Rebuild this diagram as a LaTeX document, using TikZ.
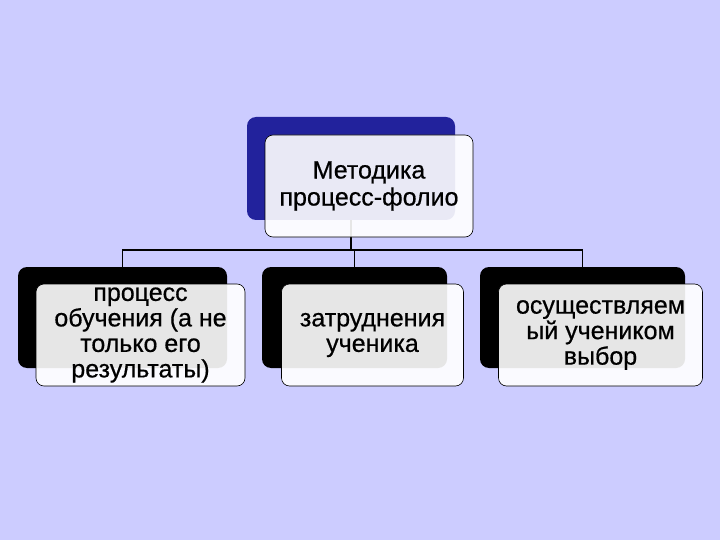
\documentclass[tikz,border=0pt]{standalone}
\usepackage{fontspec}
\setmainfont{Liberation Sans}
\newfontfamily\boxfont{Liberation Sans}[FakeBold=0.6]
\usetikzlibrary{positioning,calc}
\definecolor{lavender}{HTML}{CCCCFF}
\definecolor{navyback}{HTML}{22229C}
\tikzset{
    backbox/.style={rectangle, rounded corners=9pt, fill=black,
                    minimum height=101pt, inner sep=0pt},
    frontbox/.style={rectangle, rounded corners=8pt, draw=black, line width=0.6pt,
                     fill=white, fill opacity=0.9, text opacity=1,
                     minimum height=102pt, align=center, inner sep=0pt,
                     font=\boxfont\fontsize{25}{25.5}\selectfont},
    link/.style={draw=black, line width=1.2pt}
}
\begin{document}
\begin{tikzpicture}[x=1pt,y=-1pt]
    \fill[lavender] (0,0) rectangle (720,540);
    \useasboundingbox (0,0) rectangle (720,540);
    % tenevye pryamougolniki
    \node[backbox, fill=navyback, minimum width=208pt, minimum height=103pt] (metback) at (351,168.5) {};
    \node[backbox, minimum width=209pt] (procback) at (122.5,317.5) {};
    \node[backbox, minimum width=185pt] (zatrback) at (354.5,317.5) {};
    \node[backbox, minimum width=205pt] (vyborback) at (582.5,317.5) {};
    % soedineniya
    \coordinate (bus) at (351,250);
    \draw[link] (metback.south) -- (bus);
    \draw[link] (procback.north) -- (procback.north |- bus)
        -- (vyborback.north |- bus) -- (vyborback.north);
    \draw[link] (zatrback.north) -- (zatrback.north |- bus);
    % perednie pryamougolniki
    \node[frontbox, minimum width=208pt, font=\boxfont\fontsize{25}{27}\selectfont] (met) at ($(metback)+(18,17.5)$)
        {Методика\\процесс-фолио};
    \node[frontbox, minimum width=209pt] (proc) at ($(procback)+(18,17.5)$)
        {процесс\\обучения (а не\\только его\\результаты)};
    \node[frontbox, minimum width=182pt] (zatr) at ($(zatrback)+(18,17.5)$)
        {затруднения\\ученика};
    \node[frontbox, minimum width=204pt] (vybor) at ($(vyborback)+(18,17.5)$)
        {осуществляем\\ый учеником\\выбор};
\end{tikzpicture}
\end{document}
